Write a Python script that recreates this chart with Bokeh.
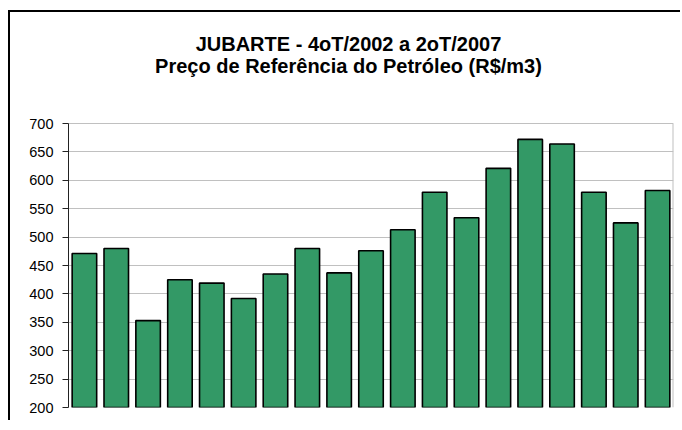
from bokeh.plotting import figure
from bokeh.models import FixedTicker, Range1d, InlineStyleSheet
from bokeh.core.properties import value
from bokeh.embed import file_html
from bokeh.resources import INLINE

quarters = ["4T/2002", "1T/2003", "2T/2003", "3T/2003", "4T/2003",
            "1T/2004", "2T/2004", "3T/2004", "4T/2004",
            "1T/2005", "2T/2005", "3T/2005", "4T/2005",
            "1T/2006", "2T/2006", "3T/2006", "4T/2006",
            "1T/2007", "2T/2007"]
prices = [471, 480, 353, 425, 419, 392, 435, 480, 437,
          476, 513, 579, 534, 621, 672, 664, 579, 525, 582]
y_min, y_max, y_step = 200, 700, 50
title1 = "JUBARTE - 4oT/2002 a 2oT/2007"
title2 = "Preço de Referência do Petróleo (R$/m3)"

FONT = "Liberation Sans"

# layout (pixels inside the canvas)
W, H = 672, 410
ML, MR, MB, MT = 58, 9, 15, 12
AXIS_TOP = 111                      # canvas y of the 700 line
frame_h = H - MB - MT
axis_h = H - MB - AXIS_TOP
units_per_px = (y_max - y_min) / axis_h
y_top = y_max + (AXIS_TOP - MT) * units_per_px

n = len(quarters)
xs = list(range(1, n + 1))
x_lo, x_hi = 0.5, n + 0.5
px_per_x = (W - ML - MR) / (x_hi - x_lo)

p = figure(width=W, height=H, x_range=Range1d(x_lo, x_hi), y_range=Range1d(y_min, y_top),
           output_backend="svg", toolbar_location=None,
           min_border_left=ML, min_border_right=MR, min_border_bottom=MB, min_border_top=MT,
           title=None)
p.styles = {"margin-top": "12px", "margin-left": "10px"}
p.stylesheets = [InlineStyleSheet(css=":host { box-shadow: -2px -2px 0px 0px black; }")]

p.vbar(x=xs, top=prices, bottom=y_min, width=0.77,
       fill_color="#339966", line_color="black", line_width=1.6)

# right border of the plot area
p.segment(x0=[x_hi], y0=[y_min], x1=[x_hi], y1=[y_max], line_color="#c0c0c0", line_width=2)

# two-line title
title_cx = x_lo + (338 - ML) / px_per_x
for txt, base_canvas_y in ((title1, 31.5), (title2, 53.5)):
    ty = y_max + (AXIS_TOP - base_canvas_y) * units_per_px
    p.text(x=[title_cx], y=[ty], text=[txt], text_align="center", text_baseline="alphabetic",
           text_font=value(FONT), text_font_size="20px", text_font_style="bold",
           text_color="black")

ticks = list(range(y_min, y_max + 1, y_step))
p.xaxis.visible = False
p.xgrid.visible = False
p.ygrid.ticker = FixedTicker(ticks=ticks)
p.ygrid.grid_line_color = "#c0c0c0"
p.ygrid.grid_line_width = 1
p.outline_line_color = None

p.yaxis.ticker = FixedTicker(ticks=ticks)
p.yaxis.bounds = (y_min, y_max)
p.yaxis.axis_line_color = "#222222"
p.yaxis.major_tick_line_color = "#222222"
p.yaxis.major_tick_out = 6
p.yaxis.major_tick_in = 0
p.yaxis.minor_tick_line_color = None
p.yaxis.major_label_text_font = FONT
p.yaxis.major_label_text_font_size = "14.5px"
p.yaxis.major_label_text_color = "black"
p.yaxis.major_label_standoff = 9

p.background_fill_color = "white"
p.border_fill_color = "white"

open("out.html", "w").write(file_html(p, INLINE))
